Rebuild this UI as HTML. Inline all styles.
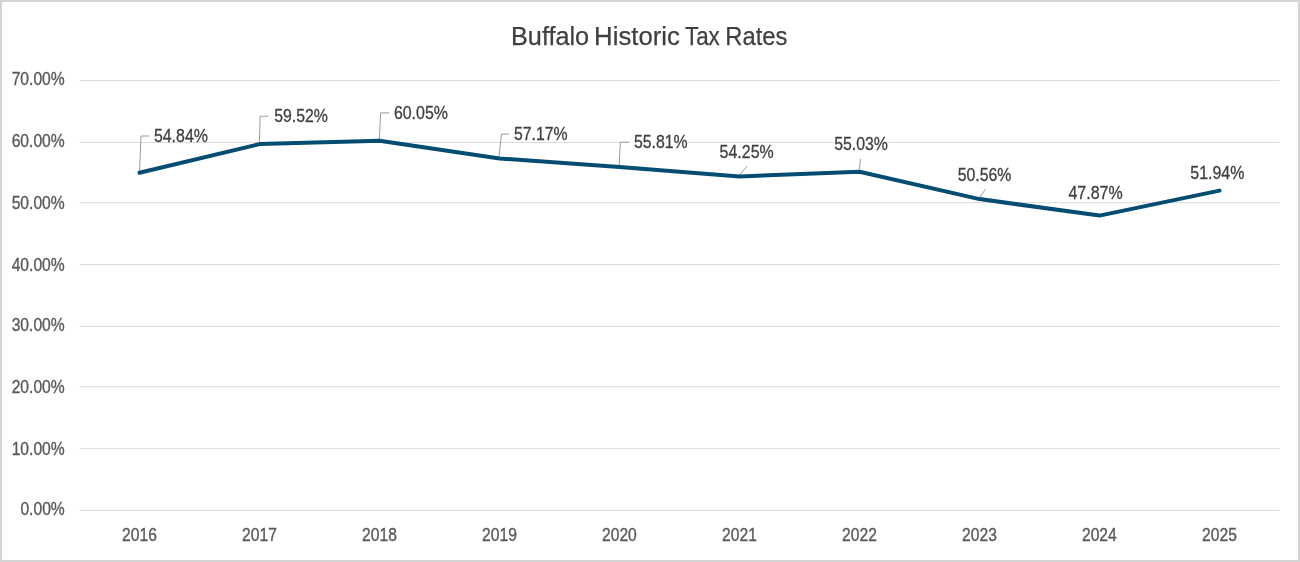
<!DOCTYPE html>
<html><head><meta charset="utf-8"><style>
html,body{margin:0;padding:0;background:#fff;}
svg{display:block;will-change:transform;}
text{font-family:"Liberation Sans",sans-serif;}
</style></head><body>
<svg width="1300" height="562" viewBox="0 0 1300 562">
<rect x="0" y="0" width="1300" height="562" fill="#fff"/>
<rect x="1" y="1" width="1298" height="560" fill="none" stroke="#d4d4d4" stroke-width="2"/>
<text x="511.04" y="45" font-size="26.5" fill="#404040" stroke="#404040" stroke-width="0.25" textLength="78.11" lengthAdjust="spacingAndGlyphs">Buffalo</text>
<text x="594.09" y="45" font-size="26.5" fill="#404040" stroke="#404040" stroke-width="0.25" textLength="85.79" lengthAdjust="spacingAndGlyphs">Historic</text>
<text x="684.93" y="45" font-size="26.5" fill="#404040" stroke="#404040" stroke-width="0.25" textLength="34.90" lengthAdjust="spacingAndGlyphs">Tax</text>
<text x="725.35" y="45" font-size="26.5" fill="#404040" stroke="#404040" stroke-width="0.25" textLength="62.00" lengthAdjust="spacingAndGlyphs">Rates</text>
<line x1="79.5" y1="510.5" x2="1279.5" y2="510.5" stroke="#d9d9d9" stroke-width="1"/>
<text x="20.38" y="514.9" font-size="18.2" fill="#595959" stroke="#595959" stroke-width="0.35" textLength="44.38" lengthAdjust="spacingAndGlyphs">0.00%</text>
<line x1="79.5" y1="448.7" x2="1279.5" y2="448.7" stroke="#d9d9d9" stroke-width="1"/>
<text x="11.67" y="454.7" font-size="18.2" fill="#595959" stroke="#595959" stroke-width="0.35" textLength="53.09" lengthAdjust="spacingAndGlyphs">10.00%</text>
<line x1="79.5" y1="386.7" x2="1279.5" y2="386.7" stroke="#d9d9d9" stroke-width="1"/>
<text x="11.67" y="392.8" font-size="18.2" fill="#595959" stroke="#595959" stroke-width="0.35" textLength="53.09" lengthAdjust="spacingAndGlyphs">20.00%</text>
<line x1="79.5" y1="326.4" x2="1279.5" y2="326.4" stroke="#d9d9d9" stroke-width="1"/>
<text x="11.67" y="330.9" font-size="18.2" fill="#595959" stroke="#595959" stroke-width="0.35" textLength="53.09" lengthAdjust="spacingAndGlyphs">30.00%</text>
<line x1="79.5" y1="264.5" x2="1279.5" y2="264.5" stroke="#d9d9d9" stroke-width="1"/>
<text x="11.67" y="270.6" font-size="18.2" fill="#595959" stroke="#595959" stroke-width="0.35" textLength="53.09" lengthAdjust="spacingAndGlyphs">40.00%</text>
<line x1="79.5" y1="202.7" x2="1279.5" y2="202.7" stroke="#d9d9d9" stroke-width="1"/>
<text x="11.67" y="208.8" font-size="18.2" fill="#595959" stroke="#595959" stroke-width="0.35" textLength="53.09" lengthAdjust="spacingAndGlyphs">50.00%</text>
<line x1="79.5" y1="142.45" x2="1279.5" y2="142.45" stroke="#d9d9d9" stroke-width="1"/>
<text x="11.67" y="146.5" font-size="18.2" fill="#595959" stroke="#595959" stroke-width="0.35" textLength="53.09" lengthAdjust="spacingAndGlyphs">60.00%</text>
<line x1="79.5" y1="80.5" x2="1279.5" y2="80.5" stroke="#d9d9d9" stroke-width="1"/>
<text x="11.67" y="84.75" font-size="18.2" fill="#595959" stroke="#595959" stroke-width="0.35" textLength="53.09" lengthAdjust="spacingAndGlyphs">70.00%</text>
<text x="122.04" y="540.5" font-size="18.2" fill="#595959" stroke="#595959" stroke-width="0.35" textLength="34.82" lengthAdjust="spacingAndGlyphs">2016</text>
<text x="242.09" y="540.5" font-size="18.2" fill="#595959" stroke="#595959" stroke-width="0.35" textLength="34.82" lengthAdjust="spacingAndGlyphs">2017</text>
<text x="362.04" y="540.5" font-size="18.2" fill="#595959" stroke="#595959" stroke-width="0.35" textLength="34.82" lengthAdjust="spacingAndGlyphs">2018</text>
<text x="482.07" y="540.5" font-size="18.2" fill="#595959" stroke="#595959" stroke-width="0.35" textLength="34.82" lengthAdjust="spacingAndGlyphs">2019</text>
<text x="602.00" y="540.5" font-size="18.2" fill="#595959" stroke="#595959" stroke-width="0.35" textLength="34.82" lengthAdjust="spacingAndGlyphs">2020</text>
<text x="722.08" y="540.5" font-size="18.2" fill="#595959" stroke="#595959" stroke-width="0.35" textLength="34.82" lengthAdjust="spacingAndGlyphs">2021</text>
<text x="842.09" y="540.5" font-size="18.2" fill="#595959" stroke="#595959" stroke-width="0.35" textLength="34.82" lengthAdjust="spacingAndGlyphs">2022</text>
<text x="962.04" y="540.5" font-size="18.2" fill="#595959" stroke="#595959" stroke-width="0.35" textLength="34.82" lengthAdjust="spacingAndGlyphs">2023</text>
<text x="1081.93" y="540.5" font-size="18.2" fill="#595959" stroke="#595959" stroke-width="0.35" textLength="34.82" lengthAdjust="spacingAndGlyphs">2024</text>
<text x="1202.03" y="540.5" font-size="18.2" fill="#595959" stroke="#595959" stroke-width="0.35" textLength="34.82" lengthAdjust="spacingAndGlyphs">2025</text>
<rect x="153.4" y="127.80000000000001" width="55.0" height="14" fill="#fff"/>
<rect x="273.7" y="108.2" width="54.69999999999999" height="14" fill="#fff"/>
<rect x="393.4" y="105.1" width="55.0" height="14" fill="#fff"/>
<rect x="513.4" y="125.9" width="54.700000000000045" height="14" fill="#fff"/>
<rect x="629.6" y="134.3" width="58.5" height="14" fill="#fff"/>
<rect x="719.1" y="144.1" width="55.10000000000002" height="14" fill="#fff"/>
<rect x="833.7" y="135.8" width="54.700000000000045" height="14" fill="#fff"/>
<rect x="957.2" y="166.7" width="54.700000000000045" height="14" fill="#fff"/>
<rect x="1067.9" y="184.7" width="55.299999999999955" height="14" fill="#fff"/>
<rect x="1189.8" y="165.3" width="55.09999999999991" height="14" fill="#fff"/>
<path d="M139.5,173.6 L141,136 L149,136" fill="none" stroke="#9a9a9a" stroke-width="1"/>
<path d="M259.3,144.9 L260.2,116.2 L268.5,116.2" fill="none" stroke="#9a9a9a" stroke-width="1"/>
<path d="M379.3,141.5 L380.6,112.9 L389.1,112.9" fill="none" stroke="#9a9a9a" stroke-width="1"/>
<path d="M498.6,159.3 L501.6,134.1 L509.1,134.1" fill="none" stroke="#9a9a9a" stroke-width="1"/>
<path d="M619,167.7 L620.4,142.2 L629.1,142.2" fill="none" stroke="#9a9a9a" stroke-width="1"/>
<path d="M739.1,175.5 L747.2,166.2" fill="none" stroke="#9a9a9a" stroke-width="1"/>
<path d="M859.1,170.9 L860.6,158.8" fill="none" stroke="#9a9a9a" stroke-width="1"/>
<path d="M978.5,199 L985.5,189.1" fill="none" stroke="#9a9a9a" stroke-width="1"/>
<polyline points="139.5,172.8 259.5,144.1 379.5,140.8 499.5,158.5 619.5,166.9 739.5,176.4 859.5,171.7 979.5,199.1 1099.5,215.6 1219.5,190.6" fill="none" stroke="#034c72" stroke-width="4" stroke-linecap="round" stroke-linejoin="round"/>
<text x="153.9" y="141.8" font-size="18.2" fill="#404040" stroke="#404040" stroke-width="0.3" textLength="54.0" lengthAdjust="spacingAndGlyphs">54.84%</text>
<text x="274.2" y="122.2" font-size="18.2" fill="#404040" stroke="#404040" stroke-width="0.3" textLength="53.7" lengthAdjust="spacingAndGlyphs">59.52%</text>
<text x="393.9" y="119.1" font-size="18.2" fill="#404040" stroke="#404040" stroke-width="0.3" textLength="54.0" lengthAdjust="spacingAndGlyphs">60.05%</text>
<text x="513.9" y="139.9" font-size="18.2" fill="#404040" stroke="#404040" stroke-width="0.3" textLength="53.7" lengthAdjust="spacingAndGlyphs">57.17%</text>
<text x="633.9" y="148.3" font-size="18.2" fill="#404040" stroke="#404040" stroke-width="0.3" textLength="53.7" lengthAdjust="spacingAndGlyphs">55.81%</text>
<text x="719.6" y="158.1" font-size="18.2" fill="#404040" stroke="#404040" stroke-width="0.3" textLength="54.1" lengthAdjust="spacingAndGlyphs">54.25%</text>
<text x="834.2" y="149.8" font-size="18.2" fill="#404040" stroke="#404040" stroke-width="0.3" textLength="53.7" lengthAdjust="spacingAndGlyphs">55.03%</text>
<text x="957.7" y="180.7" font-size="18.2" fill="#404040" stroke="#404040" stroke-width="0.3" textLength="53.7" lengthAdjust="spacingAndGlyphs">50.56%</text>
<text x="1068.4" y="198.7" font-size="18.2" fill="#404040" stroke="#404040" stroke-width="0.3" textLength="54.3" lengthAdjust="spacingAndGlyphs">47.87%</text>
<text x="1190.3" y="179.3" font-size="18.2" fill="#404040" stroke="#404040" stroke-width="0.3" textLength="54.1" lengthAdjust="spacingAndGlyphs">51.94%</text>
</svg></body></html>
